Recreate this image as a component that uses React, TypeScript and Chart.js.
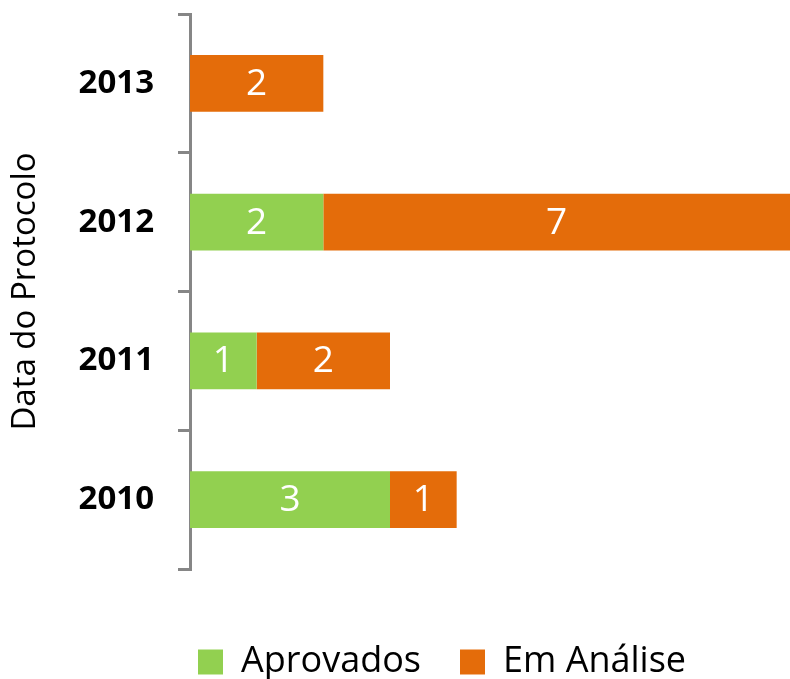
import React, { useEffect, useRef } from "react";
import { Chart, registerables } from "chart.js";

Chart.register(...registerables);

const years = ["2010", "2011", "2012", "2013"];
const aprovados = [3, 1, 2, 0];
const emAnalise = [1, 2, 7, 2];
const xMax = 9;
const seriesNames = ["Aprovados", "Em Análise"];
const yTitle = "Data do Protocolo";

const GREEN = "#92D050";
const ORANGE = "#E46C0A";
const AXIS = "#868686";
const FONT = "'Open Sans', Lato, sans-serif";

const LEGEND_PAD = 39;

const valueLabels = {
  id: "valueLabels",
  afterDatasetsDraw(chart: any) {
    const ctx = chart.ctx;
    ctx.save();
    ctx.font = `37px ${FONT}`;
    ctx.fillStyle = "#ffffff";
    ctx.textAlign = "center";
    ctx.textBaseline = "middle";
    chart.data.datasets.forEach((ds: any, i: number) => {
      const meta = chart.getDatasetMeta(i);
      meta.data.forEach((el: any, j: number) => {
        const v = ds.data[j];
        if (!v) return;
        const p = el.getProps(["x", "y", "base"], true);
        ctx.fillText(String(v), (p.x + p.base) / 2, p.y + 1);
      });
    });
    ctx.restore();
  },
};

const legendPlace = {
  id: "legendPlace",
  beforeDraw(chart: any) {
    const lg = chart.legend;
    if (!lg) return;
    lg.left = 198 - LEGEND_PAD;
    lg.top = 644 - LEGEND_PAD;
    lg.right = chart.width;
    lg.bottom = chart.height;
    lg.width = lg.right - lg.left;
    lg.height = lg.bottom - lg.top;
  },
};

export default function App() {
  const ref = useRef<HTMLCanvasElement>(null);
  useEffect(() => {
    if (!ref.current) return;
    const chart = new Chart(ref.current, {
      type: "bar",
      data: {
        labels: years,
        datasets: [
          { label: seriesNames[0], data: aprovados, backgroundColor: GREEN, borderWidth: 0 },
          { label: seriesNames[1], data: emAnalise, backgroundColor: ORANGE, borderWidth: 0 },
        ],
      },
      options: {
        indexAxis: "y",
        responsive: false,
        animation: false,
        datasets: { bar: { barPercentage: 0.41, categoryPercentage: 1 } },
        layout: { padding: { top: 14, right: 0, left: 0, bottom: 25 } },
        scales: {
          x: {
            stacked: true,
            min: 0,
            max: xMax,
            display: false,
          },
          y: {
            stacked: true,
            reverse: true,
            grid: {
              display: true,
              drawOnChartArea: false,
              drawTicks: true,
              tickLength: 12,
              color: AXIS,
              lineWidth: 3,
              offset: true,
            },
            border: { display: true, color: AXIS, width: 3 },
            ticks: {
              color: "#000",
              font: { family: FONT, size: 33, weight: "bold" },
              padding: 24,
            },
            title: {
              display: true,
              text: yTitle,
              color: "#000",
              font: { family: FONT, size: 33 },
              padding: { top: 6, bottom: 0 },
            },
            afterFit: (scale: any) => {
              scale.width = 190;
              scale.paddingTop = 0;
              scale.paddingBottom = 0;
            },
          },
        },
        plugins: {
          legend: {
            position: "bottom",
            align: "start",
            labels: {
              boxWidth: 25,
              boxHeight: 25,
              padding: LEGEND_PAD,
              color: "#000",
              font: { family: FONT, size: 36 },
            },
          },
          tooltip: { enabled: false },
        },
      },
      plugins: [valueLabels, legendPlace],
    } as any);
    return () => chart.destroy();
  }, []);
  return (
    <div style={{ position: "fixed", left: 0, top: 0, width: 790, height: 679 }}>
      <canvas ref={ref} width={790} height={679} />
    </div>
  );
}
